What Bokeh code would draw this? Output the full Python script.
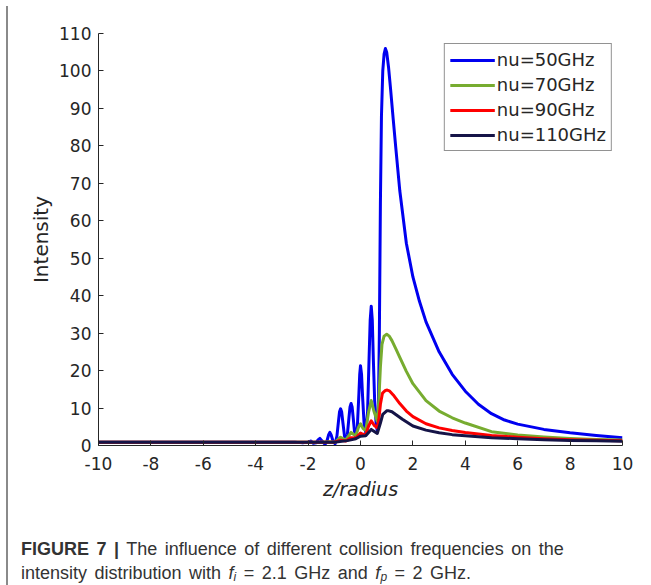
from bokeh.plotting import figure
from bokeh.models import Legend, LegendItem, Div, FixedTicker
from bokeh.layouts import column
from bokeh.embed import file_html
from bokeh.resources import INLINE

# ---- data ----
z_blue = [-10, -9, -8, -7, -6, -5, -4, -3, -2.5, -2.2, -2.0, -1.9, -1.8, -1.7, -1.62, -1.55, -1.48,
          -1.35, -1.28, -1.22, -1.17, -1.12, -1.05, -0.97, -0.9, -0.84, -0.8, -0.76, -0.72, -0.67,
          -0.61, -0.56, -0.5, -0.44, -0.4, -0.36, -0.32, -0.28, -0.23, -0.18, -0.12, -0.06, -0.03,
          0.0, 0.04, 0.08, 0.14, 0.2, 0.27, 0.33, 0.37, 0.41, 0.45, 0.49, 0.54, 0.6, 0.64, 0.68,
          0.72, 0.76, 0.8, 0.85, 0.9, 0.95, 1.0, 1.07, 1.15, 1.25, 1.34, 1.5, 1.75, 2.0, 2.25, 2.5,
          3.0, 3.5, 4.0, 4.5, 5.0, 5.5, 6.0, 7.0, 8.0, 9.0, 10.0]
i_blue = [0.9, 0.9, 0.9, 0.9, 0.9, 0.9, 0.9, 0.9, 0.9, 0.7, 0.9, 1.2, 0.6, 0.7, 1.5, 1.9, 1.3,
          0.3, 1.2, 2.8, 3.5, 2.8, 1.2, 0.4, 2.5, 6.5, 9.0, 9.8, 9.0, 6.0,
          2.5, 1.3, 3.0, 7.5, 10.3, 11.2, 10.3, 7.5, 3.8, 2.2, 5.0, 14.0, 19.0,
          21.3, 19.0, 13.0, 5.5, 3.5, 9.0, 24.0, 33.5, 37.2, 33.5, 23.0, 12.0, 5.5, 4.0, 8.0,
          30.0, 65.0, 88.0, 100.0, 104.5, 106.0, 105.0, 101.0, 95.0, 87.0, 80.0, 68.0, 54.0, 45.0, 38.5, 33.0,
          25.0, 19.0, 14.5, 11.0, 8.5, 6.8, 5.7, 4.3, 3.4, 2.7, 2.1]

z_green = [-10, -9, -8, -7, -6, -5, -4, -3, -2, -1.5, -1.2, -0.97, -0.86, -0.76, -0.66, -0.56,
           -0.46, -0.36, -0.27, -0.18, -0.08, 0.0, 0.1, 0.2, 0.31, 0.41, 0.52, 0.64, 0.7, 0.76,
           0.82, 0.9, 1.0, 1.1, 1.2, 1.35, 1.5, 1.75, 2.0, 2.5, 3.0, 3.5, 4.0, 5.0, 6.0, 7.0,
           8.0, 9.0, 10.0]
i_green = [0.9, 0.9, 0.9, 0.9, 0.9, 0.9, 0.9, 0.9, 0.9, 0.9, 1.0, 0.9, 1.6, 2.2, 1.8, 1.5,
           2.5, 3.5, 3.0, 2.6, 4.8, 5.8, 4.5, 4.0, 9.0, 12.0, 9.0, 6.5, 12.0, 21.0,
           27.0, 29.2, 29.7, 29.2, 28.0, 25.8, 23.5, 19.8, 16.5, 12.0, 9.2, 7.4, 6.0, 3.7, 2.8, 2.3,
           1.9, 1.6, 1.45]

z_red = [-10, -9, -8, -7, -6, -5, -4, -3, -2, -1.0, -0.76, -0.56, -0.36, -0.18, 0.0, 0.1, 0.2,
         0.31, 0.41, 0.52, 0.64, 0.7, 0.76, 0.84, 0.95, 1.02, 1.1, 1.25, 1.5, 1.75, 2.0, 2.5,
         3.0, 3.5, 4.0, 4.5, 5.0, 6.0, 7.0, 8.0, 9.0, 10.0]
i_red = [0.9, 0.9, 0.9, 0.9, 0.9, 0.9, 0.9, 0.9, 0.9, 0.9, 1.4, 1.2, 2.1, 2.0, 3.3, 3.0, 2.9,
         5.2, 6.6, 5.4, 4.7, 7.0, 11.0, 14.0, 14.7, 14.8, 14.6, 13.5, 11.2, 9.2, 7.7, 5.8,
         4.7, 4.0, 3.5, 3.1, 2.7, 2.2, 1.8, 1.55, 1.4, 1.3]

z_navy = [-10, -9, -8, -7, -6, -5, -4, -3, -2, -1.0, -0.5, -0.18, 0.0, 0.2, 0.41, 0.64, 0.76,
          0.85, 1.0, 1.05, 1.2, 1.4, 1.6, 2.0, 2.5, 3.0, 3.5, 4.0, 5.0, 6.0, 7.0, 8.0, 9.0, 10.0]
i_navy = [0.85, 0.85, 0.85, 0.85, 0.85, 0.85, 0.85, 0.85, 0.85, 0.85, 1.3, 1.8, 2.5, 2.6, 4.3,
          3.2, 6.0, 8.3, 9.25, 9.3, 9.0, 8.0, 7.0, 5.2, 4.1, 3.4, 2.9, 2.6, 2.1, 1.8, 1.55, 1.35,
          1.25, 1.15]

labels = ["nu=50GHz", "nu=70GHz", "nu=90GHz", "nu=110GHz"]
colors = ["#0000f0", "#77ac30", "#ff0000", "#151447"]

x_ticks = [-10, -8, -6, -4, -2, 0, 2, 4, 6, 8, 10]
y_ticks = [0, 10, 20, 30, 40, 50, 60, 70, 80, 90, 100, 110]

FONT = "DejaVu Sans"
AX = "#262626"
FRAME_GREY = "#8a8a8a"

# thin grey rule across the top of the page (a 2-px tall empty figure)
top_rule = figure(width=643, height=2, output_backend="svg", toolbar_location=None,
                  min_border=0, x_range=(0, 1), y_range=(0, 1),
                  background_fill_color=FRAME_GREY, border_fill_color=FRAME_GREY)
top_rule.outline_line_color = None
top_rule.xaxis.visible = False
top_rule.yaxis.visible = False
top_rule.xgrid.visible = False
top_rule.ygrid.visible = False

p = figure(width=633, height=524, x_range=(-10, 10), y_range=(0, 110),
           output_backend="svg", toolbar_location=None,
           min_border_left=90, min_border_right=19, min_border_top=25, min_border_bottom=87)
p.outline_line_color = None
p.xgrid.visible = False
p.ygrid.visible = False

series = [(z_blue, i_blue), (z_green, i_green), (z_red, i_red), (z_navy, i_navy)]
items = []
for (zz, ii), lab, col in zip(series, labels, colors):
    r = p.line(zz, ii, line_color=col, line_width=3, line_join="round")
    items.append(LegendItem(label=lab, renderers=[r]))

for ax in (p.xaxis[0], p.yaxis[0]):
    ax.axis_line_color = AX
    ax.major_tick_line_color = AX
    ax.major_tick_in = 5
    ax.major_tick_out = 0
    ax.minor_tick_line_color = None
    ax.major_label_text_font = FONT
    ax.major_label_text_font_size = "17px"
    ax.major_label_text_color = AX
    ax.axis_label_text_font = FONT
    ax.axis_label_text_font_size = "18px"
    ax.axis_label_text_color = AX
    ax.axis_label_text_font_style = "normal"

p.xaxis.ticker = FixedTicker(ticks=x_ticks)
p.yaxis.ticker = FixedTicker(ticks=y_ticks)
p.xaxis.major_label_overrides = {t: str(t) for t in x_ticks}
p.yaxis.major_label_overrides = {t: str(t) for t in y_ticks}
p.xaxis.axis_label = "z/radius"
p.xaxis.axis_label_text_font_style = "italic"
p.xaxis.axis_label_text_font_size = "19px"
p.yaxis.axis_label = "Intensity"
p.yaxis.axis_label_text_font_size = "20px"
p.xaxis.major_label_standoff = 11
p.yaxis.major_label_standoff = 7
p.xaxis.axis_label_standoff = 5
p.yaxis.axis_label_standoff = 3

legend = Legend(items=items, location="top_right", margin=10, padding=5, spacing=4,
                glyph_width=45, glyph_height=20, label_height=20, label_standoff=2,
                label_text_font=FONT, label_text_font_size="18px", label_text_color=AX,
                border_line_color=AX, border_line_width=1, background_fill_alpha=1.0)
p.add_layout(legend)

SUB = '<sub style="font-size:12px;vertical-align:-2px;line-height:0">'
caption = Div(
    text=('<b>FIGURE 7 |</b> The influence of different collision frequencies on the<br>'
          'intensity distribution with <i>f</i>' + SUB + '<i>i</i></sub> = 2.1 GHz and '
          '<i>f</i>' + SUB + '<i>p</i></sub> = 2 GHz.'),
    width=633, height=51,
    styles={"font-family": "Liberation Sans", "font-size": "18px", "line-height": "24px",
            "word-spacing": "2.5px", "color": "#333333", "padding-left": "8px"})

layout = column(top_rule, p, caption, styles={"margin": "6px 0 0 8px"})

frame_css = ("<style>html,body{overflow:hidden}"
             "body::after{content:'';position:fixed;left:6px;top:6px;bottom:0;width:2px;"
             "background:" + FRAME_GREY + ";z-index:5}</style>")

html = file_html(layout, INLINE)
html = html.replace("<head>", "<head>" + frame_css, 1)
open("out.html", "w").write(html)
